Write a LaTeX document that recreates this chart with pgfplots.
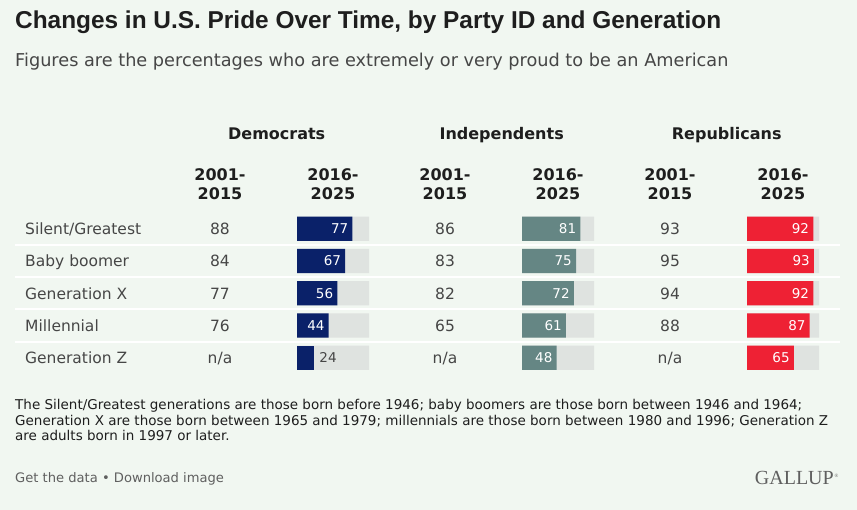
\documentclass[border=0pt]{standalone}
\usepackage{pgfplots}
\usepackage{pgfplotstable}
\pgfplotsset{compat=1.18}
\usepackage{fontspec}
\setmainfont{DejaVu Sans}
\newfontfamily\titlefont{Liberation Sans}
\newfontfamily\gallupfont{Liberation Serif}

\definecolor{bg}{RGB}{241,247,241}
\definecolor{track}{RGB}{223,227,224}
\definecolor{dem}{RGB}{10,33,105}
\definecolor{ind}{RGB}{101,134,132}
\definecolor{rep}{RGB}{238,33,52}
\definecolor{ink}{RGB}{30,30,30}
\definecolor{body}{RGB}{70,70,70}
\definecolor{muted}{RGB}{95,95,95}

% 2016-2025 shares, one row per generation
\pgfplotstableread{
row full dem ind rep
1 100 77 81 92
2 100 67 75 93
3 100 56 72 92
4 100 44 61 87
5 100 24 48 65
}\pride

\pgfplotsset{
  cell/.style={
    scale only axis, width=72bp, height=161.25bp,
    xmin=0, xmax=100, ymin=0.5, ymax=5.5, y dir=reverse,
    hide axis, clip=false, anchor=north west,
    /pgf/number format/assume math mode=true,
  },
  track/.style={xbar, bar width=24.3bp, bar shift=0pt, fill=track, draw=none},
  val/.style={xbar, bar width=24.3bp, bar shift=0pt, fill=#1, draw=none,
    point meta=x, nodes near coords},
  inlab/.style={nodes near coords style={anchor=east, xshift=-4bp, inner sep=0pt,
      text=white, font=\fontsize{13.5bp}{15bp}\selectfont}},
  outlab/.style={nodes near coords style={anchor=west, xshift=5bp, inner sep=0pt,
      text=body, font=\fontsize{13.5bp}{15bp}\selectfont}},
}

\newcommand\headfont{\fontsize{16bp}{19bp}\selectfont\bfseries}
\newcommand\bodyfont{\fontsize{15.5bp}{18bp}\selectfont}

\begin{document}
\begin{tikzpicture}[every node/.style={inner sep=0pt}]
\fill[bg] (0,0) rectangle (857bp,-510bp);
\useasboundingbox (0,0) rectangle (857bp,-510bp);

\node[anchor=base west, text=ink] at (15bp,-28.3bp)
  {\titlefont\fontsize{24.4bp}{28bp}\selectfont\bfseries Changes in U.S. Pride Over Time, by Party ID and Generation};
\node[anchor=base west, text=body] at (15bp,-66.7bp)
  {\fontsize{17.7bp}{20bp}\selectfont Figures are the percentages who are extremely or very proud to be an American};

% party and period headers
\foreach \x/\name in {276.7/Democrats, 501.7/Independents, 726.7/Republicans}
  \node[anchor=base, text=ink, font=\headfont] at (\x*1bp,-139.3bp) {\name};
\foreach \x in {220, 445, 670} {
  \node[anchor=base, text=ink, font=\headfont] at (\x*1bp,-180bp) {2001-};
  \node[anchor=base, text=ink, font=\headfont] at (\x*1bp,-199.3bp) {2015};
}
\foreach \x in {333, 558, 783} {
  \node[anchor=base, text=ink, font=\headfont] at (\x*1bp,-180bp) {2016-};
  \node[anchor=base, text=ink, font=\headfont] at (\x*1bp,-199.3bp) {2025};
}

% row separators
\foreach \y in {244.9, 277.15, 309.4, 341.65}
  \draw[white, line width=2bp] (15bp,-\y*1bp) -- (840bp,-\y*1bp);

% row labels and 2001-2015 values
\foreach \y/\lab/\d/\i/\r in {234.5/Silent\slash Greatest/88/86/93,
                               266.75/Baby boomer/84/83/95,
                               299/Generation X/77/82/94,
                               331.25/Millennial/76/65/88,
                               363.5/Generation Z/n\slash a/n\slash a/n\slash a} {
  \node[anchor=base west, text=body, font=\bodyfont] at (25bp,-\y*1bp) {\lab};
  \node[anchor=base, text=body, font=\bodyfont] at (220bp,-\y*1bp) {\d};
  \node[anchor=base, text=body, font=\bodyfont] at (445bp,-\y*1bp) {\i};
  \node[anchor=base, text=body, font=\bodyfont] at (670bp,-\y*1bp) {\r};
}

% 2016-2025 bars
\begin{axis}[cell, at={(297bp,-212.7bp)}]
\addplot[track] table[x=full, y=row] {\pride};
\addplot[val=dem, inlab, skip coords between index={4}{5}] table[x=dem, y=row] {\pride};
\addplot[val=dem, outlab, skip coords between index={0}{4}] table[x=dem, y=row] {\pride};
\end{axis}
\begin{axis}[cell, at={(522bp,-212.7bp)}]
\addplot[track] table[x=full, y=row] {\pride};
\addplot[val=ind, inlab] table[x=ind, y=row] {\pride};
\end{axis}
\begin{axis}[cell, at={(747bp,-212.7bp)}]
\addplot[track] table[x=full, y=row] {\pride};
\addplot[val=rep, inlab] table[x=rep, y=row] {\pride};
\end{axis}

% notes
\begin{scope}[every node/.style={anchor=base west, inner sep=0pt, text=ink,
    font=\fontsize{13.5bp}{15bp}\selectfont}]
\node at (15bp,-409.7bp) {The Silent\slash Greatest generations are those born before 1946; baby boomers are those born between 1946 and 1964;};
\node at (15bp,-425.3bp) {Generation X are those born between 1965 and 1979; millennials are those born between 1980 and 1996; Generation Z};
\node at (15bp,-440.7bp) {are adults born in 1997 or later.};
\end{scope}
\node[anchor=base west, text=muted, font=\fontsize{13.1bp}{15bp}\selectfont] at (15bp,-482.8bp)
  {Get the data \textbullet\ Download image};
\node[anchor=base east, text=muted] at (834bp,-484bp)
  {\gallupfont\fontsize{20bp}{22bp}\selectfont GALLUP};
\node[anchor=base west, text=muted] at (834.5bp,-477bp)
  {\gallupfont\fontsize{5bp}{6bp}\selectfont\textregistered};
\end{tikzpicture}
\end{document}
